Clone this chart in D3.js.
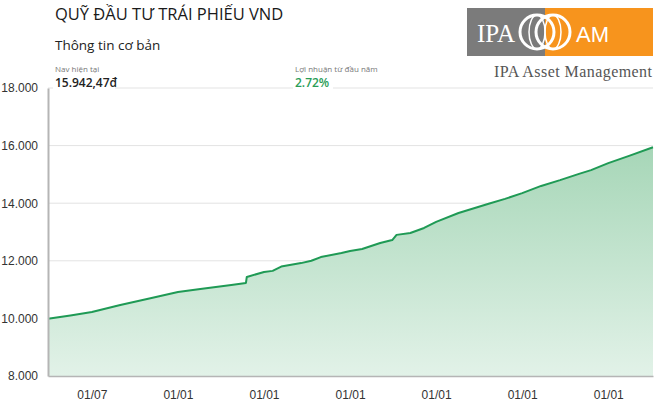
<!DOCTYPE html>
<html>
<head>
<meta charset="utf-8">
<script src="https://cdn.jsdelivr.net/npm/d3@7"></script>
<style>
  body { margin: 0; background: #fff; }
  svg { display: block; }
</style>
</head>
<body>
<svg id="chart" width="660" height="404"></svg>
<script>
// axis position in "tick periods" (1 = first labelled tick), value in VND
const period = [0.49, 0.75, 1.0, 1.33, 1.68, 2.0, 2.26, 2.62, 2.79, 2.80, 3.0, 3.1, 3.2, 3.43, 3.55, 3.66, 3.9,
  4.0, 4.14, 4.35, 4.49, 4.54, 4.7, 4.86, 5.0, 5.26, 5.61, 5.8, 6.0, 6.22, 6.44, 6.66, 6.8, 7.0, 7.25, 7.52];
const nav = [9990, 10100, 10220, 10465, 10700, 10920, 11020, 11160, 11230, 11440, 11610, 11650, 11800, 11920, 12000, 12130, 12270,
  12340, 12410, 12620, 12720, 12900, 12965, 13140, 13350, 13660, 13980, 14150, 14350, 14600, 14800, 15020, 15150, 15390, 15650, 15942];
const xTicks = [1, 2, 3, 4, 5, 6, 7];
const xTickLabels = ["01/07", "01/01", "01/01", "01/01", "01/01", "01/01", "01/01"];
const yTicks = [8000, 10000, 12000, 14000, 16000, 18000];

const svg = d3.select("#chart");
const m = { left: 48, right: 653, top: 88, bottom: 376 };
const green = "#1f9a55";

const x = d3.scaleLinear().domain([0.49, 7.52]).range([m.left, m.right]);
const y = d3.scaleLinear().domain([8000, 18000]).range([m.bottom, m.top]);

const data = period.map((p, i) => ({ p, v: nav[i] }));

// gradient
const defs = svg.append("defs");
const grad = defs.append("linearGradient").attr("id", "fillGrad")
  .attr("gradientUnits", "userSpaceOnUse")
  .attr("x1", 0).attr("x2", 0).attr("y1", y(16000)).attr("y2", y(8000));
grad.append("stop").attr("offset", 0).attr("stop-color", "#a6d6b7");
grad.append("stop").attr("offset", 1).attr("stop-color", "#e2f2e8");

// grid
svg.append("g").selectAll("line").data(yTicks.slice(1)).join("line")
  .attr("x1", m.left).attr("x2", m.right)
  .attr("y1", (d) => y(d)).attr("y2", (d) => y(d))
  .attr("stroke", "#e3e3e3").attr("stroke-width", 1);

// area + line
svg.append("path")
  .attr("fill", "url(#fillGrad)")
  .attr("d", d3.area().x((d) => x(d.p)).y0(y(8000)).y1((d) => y(d.v))(data));

svg.append("path")
  .attr("fill", "none").attr("stroke", green).attr("stroke-width", 2)
  .attr("stroke-linejoin", "round")
  .attr("d", d3.line().x((d) => x(d.p)).y((d) => y(d.v))(data));

// axes
const yAxis = svg.append("g").attr("transform", `translate(${m.left},0)`)
  .call(d3.axisLeft(y).tickValues(yTicks).tickSize(0).tickPadding(10)
    .tickFormat((d) => d3.format(",")(d).replace(/,/g, ".")));
yAxis.select(".domain").attr("stroke", "#b5b5b5").attr("stroke-width", 2);
yAxis.selectAll("text").attr("font-family", "Liberation Sans, Arial, sans-serif")
  .attr("font-size", 12).attr("fill", "#333");

const xAxis = svg.append("g").attr("transform", `translate(0,${m.bottom})`)
  .call(d3.axisBottom(x).tickValues(xTicks).tickSize(0).tickPadding(14)
    .tickFormat((d, i) => xTickLabels[i]));
xAxis.select(".domain").attr("stroke", "#b5b5b5").attr("stroke-width", 1.5);
xAxis.selectAll("text").attr("font-family", "Liberation Sans, Arial, sans-serif")
  .attr("font-size", 12).attr("fill", "#333");

// header
const font = "'Open Sans', 'Noto Sans', sans-serif";
svg.append("text").attr("x", 55).attr("y", 20).text("QUỸ ĐẦU TƯ TRÁI PHIẾU VND")
  .attr("font-family", font).attr("font-size", 16.5).attr("font-weight", 500).attr("fill", "#1a1a1a");
svg.append("text").attr("x", 55).attr("y", 50).text("Thông tin cơ bản")
  .attr("font-family", font).attr("font-size", 13.5).attr("font-weight", 500).attr("fill", "#222");

const info = [
  { x: 55, label: "Nav hiện tại", value: "15.942,47đ", color: "#222", w: 62 },
  { x: 295, label: "Lợi nhuận từ đầu năm", value: "2.72%", color: "#2a9d57", w: 40 },
];
info.forEach((d) => {
  svg.append("rect").attr("x", d.x - 2).attr("y", 74).attr("width", d.w).attr("height", 18).attr("fill", "#fff");
  svg.append("text").attr("x", d.x).attr("y", 72).text(d.label)
    .attr("font-family", font).attr("font-size", 8).attr("fill", "#777");
  svg.append("text").attr("x", d.x).attr("y", 87).text(d.value)
    .attr("font-family", font).attr("font-size", 12).attr("font-weight", 600).attr("fill", d.color);
});

// logo
const logo = svg.append("g");
logo.append("rect").attr("x", 467).attr("y", 8).attr("width", 78).attr("height", 48).attr("fill", "#7b7b7b");
logo.append("rect").attr("x", 545).attr("y", 8).attr("width", 108).attr("height", 48).attr("fill", "#f7941d");
logo.append("text").attr("x", 477).attr("y", 42).text("IPA")
  .attr("font-family", "Liberation Serif, serif").attr("font-size", 25).attr("fill", "#fff");
const cy = 32;
[537, 553].forEach((cx) => {
  logo.append("circle").attr("cx", cx).attr("cy", cy).attr("r", 17)
    .attr("fill", "none").attr("stroke", "#fff").attr("stroke-width", 3);
  logo.append("ellipse").attr("cx", cx).attr("cy", cy).attr("rx", 8).attr("ry", 17)
    .attr("fill", "none").attr("stroke", "#fff").attr("stroke-width", 1.5);
});
logo.append("text").attr("x", 576).attr("y", 42).text("AM")
  .attr("font-family", "Liberation Sans, Arial, sans-serif").attr("font-size", 22).attr("fill", "#fff");
logo.append("text").attr("x", 494).attr("y", 77).text("IPA Asset Management")
  .attr("font-family", "Liberation Serif, serif").attr("font-size", 16).attr("fill", "#555")
  .attr("textLength", 158);
</script>
</body>
</html>
